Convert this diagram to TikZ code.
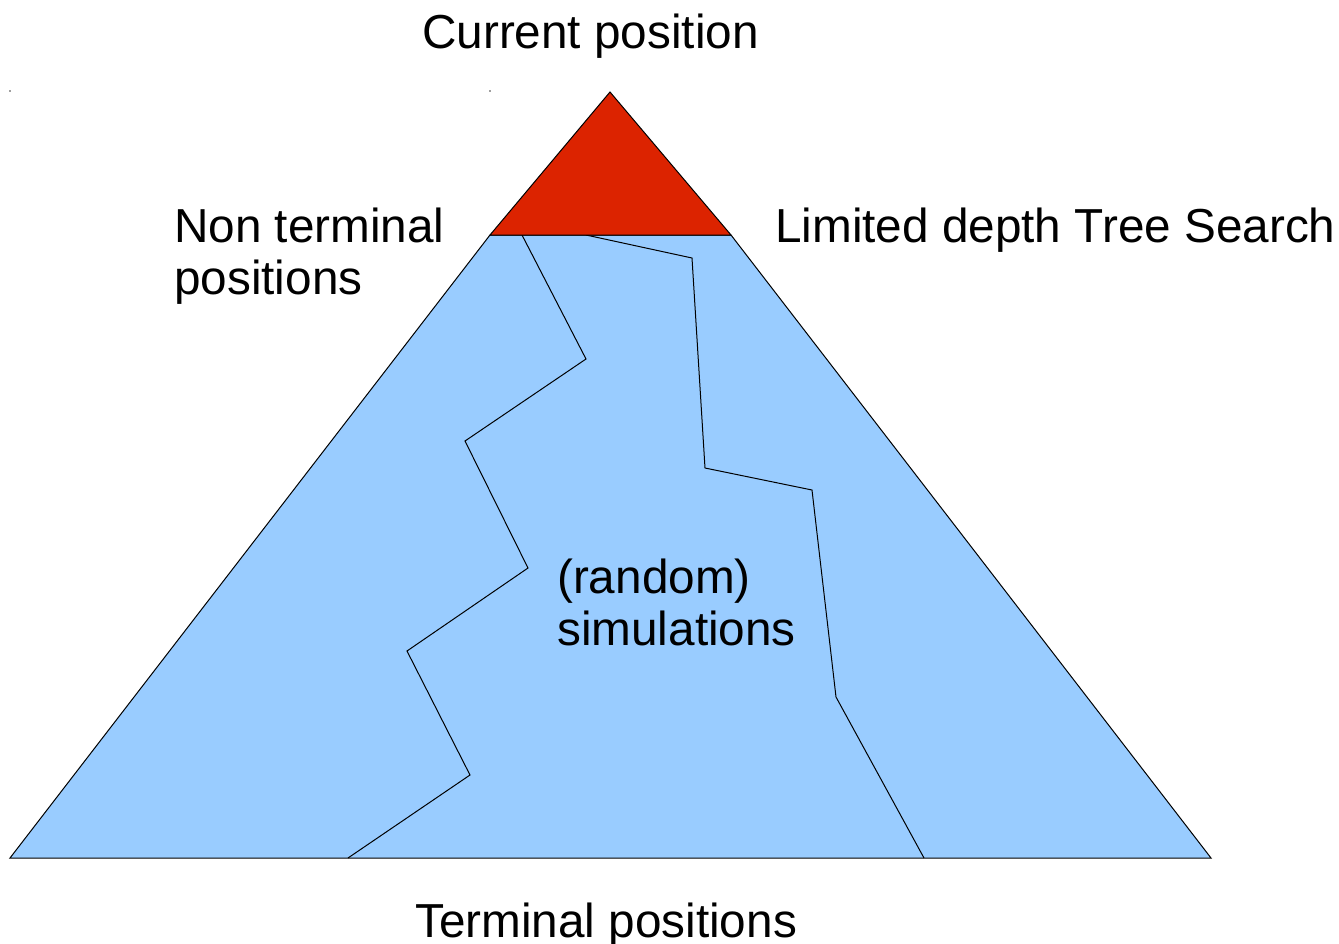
\documentclass[tikz,border=0pt]{standalone}
\usepackage{fontspec}
\setmainfont{Liberation Sans}
\definecolor{peakred}{HTML}{DC2300}
\definecolor{treeblue}{HTML}{99CCFF}
\definecolor{markgray}{HTML}{A0A0A0}
\begin{document}
\begin{tikzpicture}[x=1pt,y=-1pt,
  caption/.style={font=\fontsize{47.7}{52}\selectfont, inner sep=0pt, anchor=base west, align=left},
  outline/.style={draw=black, line width=1pt, line join=miter},
  walk/.style={draw=black, line width=1pt}]
\useasboundingbox (0,0) rectangle (1339,943);

% corners of the search tree
\coordinate (apex) at (610,92);
\coordinate (rl) at (490,235);
\coordinate (rr) at (731,235);
\coordinate (bl) at (10,858);
\coordinate (br) at (1211,858);

% full tree below the searched part
\path[outline, fill=treeblue] (rl) -- (rr) -- (br) -- (bl) -- cycle;

% two random playouts
\coordinate (a0) at (522,235);
\coordinate (a1) at (586,359);
\coordinate (a2) at (465,441);
\coordinate (a3) at (528,568);
\coordinate (a4) at (407,651);
\coordinate (a5) at (470,775);
\coordinate (a6) at (348,858);
\draw[walk] (a0) -- (a1) -- (a2) -- (a3) -- (a4) -- (a5) -- (a6);

\coordinate (b0) at (586,235);
\coordinate (b1) at (692,258);
\coordinate (b2) at (705,468);
\coordinate (b3) at (812,490);
\coordinate (b4) at (836,697);
\coordinate (b5) at (924,858);
\draw[walk] (b0) -- (b1) -- (b2) -- (b3) -- (b4) -- (b5);

% limited depth tree search at the top
\path[outline, fill=peakred] (apex) -- (rr) -- (rl) -- cycle;

% small handle marks
\fill[markgray] (9,90) rectangle (11,92);
\fill[markgray] (489,90) rectangle (491,92);

% labels (base anchor of a two-line label sits on its last line)
\node[caption] (current) at (422,48) {Current position};
\node[caption] (nonterm) at (174,294) {Non terminal\\positions};
\node[caption] (limited) at (775,242) {Limited depth Tree Search};
\node[caption] (sims) at (557,645) {(random)\\simulations};
\node[caption] (terminal) at (415,937) {Terminal positions};
\end{tikzpicture}
\end{document}
